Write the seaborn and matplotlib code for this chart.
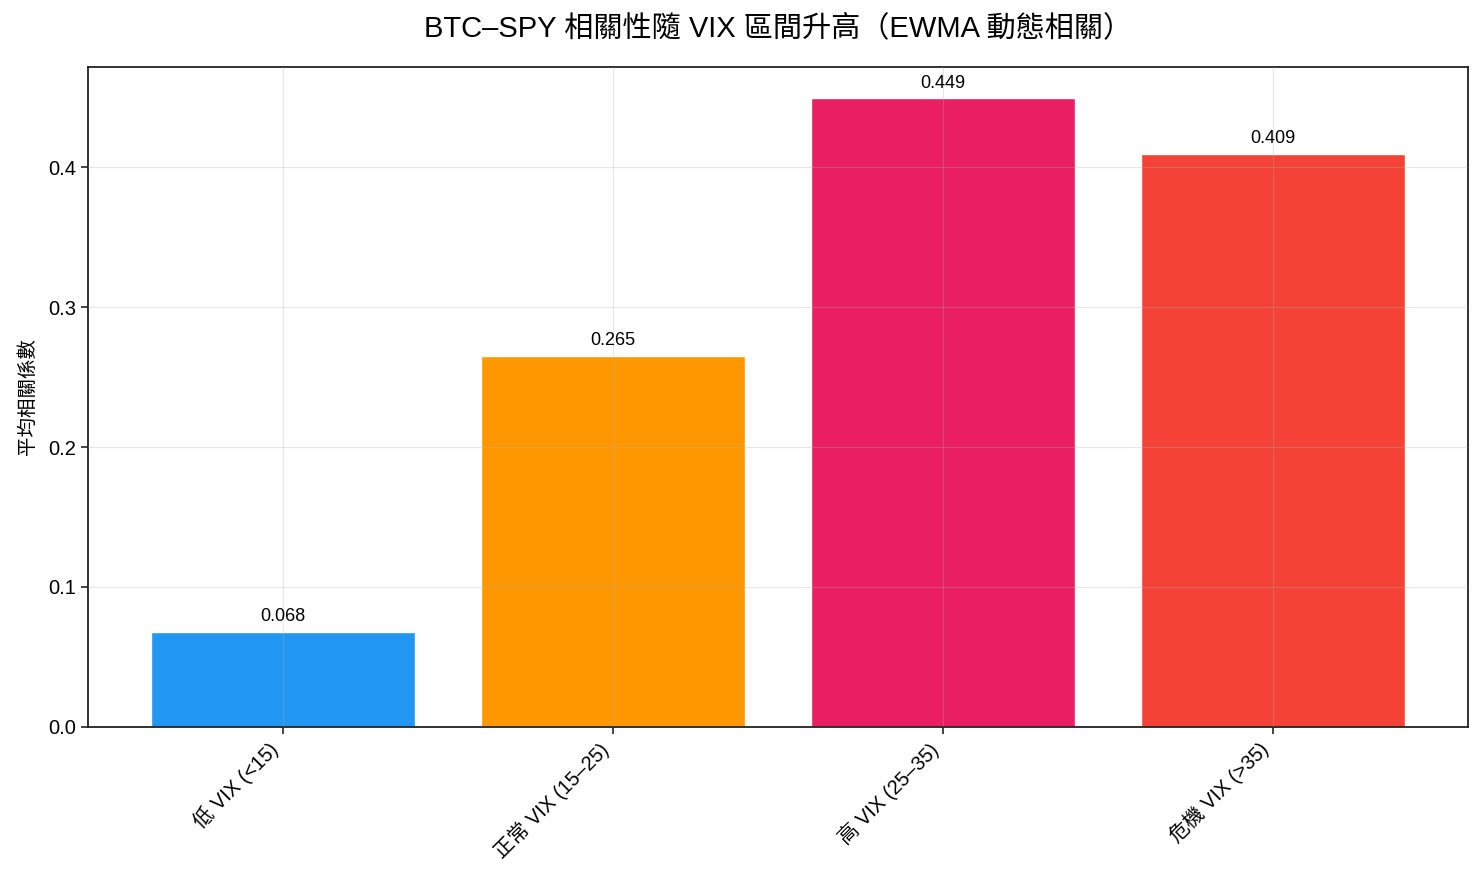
import matplotlib
matplotlib.use("Agg")
import matplotlib.pyplot as plt
import seaborn as sns
import pandas as pd

# Data
regimes = ["低 VIX (<15)", "正常 VIX (15–25)", "高 VIX (25–35)", "危機 VIX (>35)"]
mean_corr = [0.068, 0.265, 0.449, 0.409]
bar_colors = ["#2196F3", "#FF9800", "#E91E63", "#F44336"]

df = pd.DataFrame({"regime": regimes, "corr": mean_corr})

sns.set_style("white")
plt.rcParams["font.family"] = ["Liberation Sans", "Noto Sans CJK TC", "DejaVu Sans"]
plt.rcParams["axes.edgecolor"] = "#222222"
plt.rcParams["axes.linewidth"] = 1.3
plt.rcParams["text.color"] = "black"
plt.rcParams["axes.labelcolor"] = "black"
plt.rcParams["xtick.color"] = "black"
plt.rcParams["ytick.color"] = "black"

fig = plt.figure(figsize=(14.83, 8.83), dpi=100)
ax = fig.add_axes([0.0593, 0.1767, 0.9306, 0.7474])

sns.barplot(data=df, x="regime", y="corr", hue="regime", palette=bar_colors,
            legend=False, width=0.8, saturation=1, ax=ax)

# value labels above bars
for i, v in enumerate(mean_corr):
    ax.annotate(f"{v:.3f}", (i, v), xytext=(0, 5), textcoords="offset points",
                ha="center", va="bottom", fontsize=13)

ax.set_ylim(0, max(mean_corr) * 1.05)
ax.set_xlim(-0.59, 3.59)
ax.set_title("BTC–SPY 相關性隨 VIX 區間升高（EWMA 動態相關）", fontsize=21, pad=22)
ax.set_ylabel("平均相關係數", fontsize=14, labelpad=8)
ax.set_xlabel("")
ax.set_yticks([0.0, 0.1, 0.2, 0.3, 0.4])
ax.tick_params(axis="both", labelsize=14.5, length=5, width=1.2, color="#222222",
               bottom=True, left=True)
plt.setp(ax.get_xticklabels(), rotation=45, ha="right")

ax.grid(True, color="#b0b0b0", alpha=0.3)
ax.set_axisbelow(False)

fig.savefig("out.png", dpi=100)
